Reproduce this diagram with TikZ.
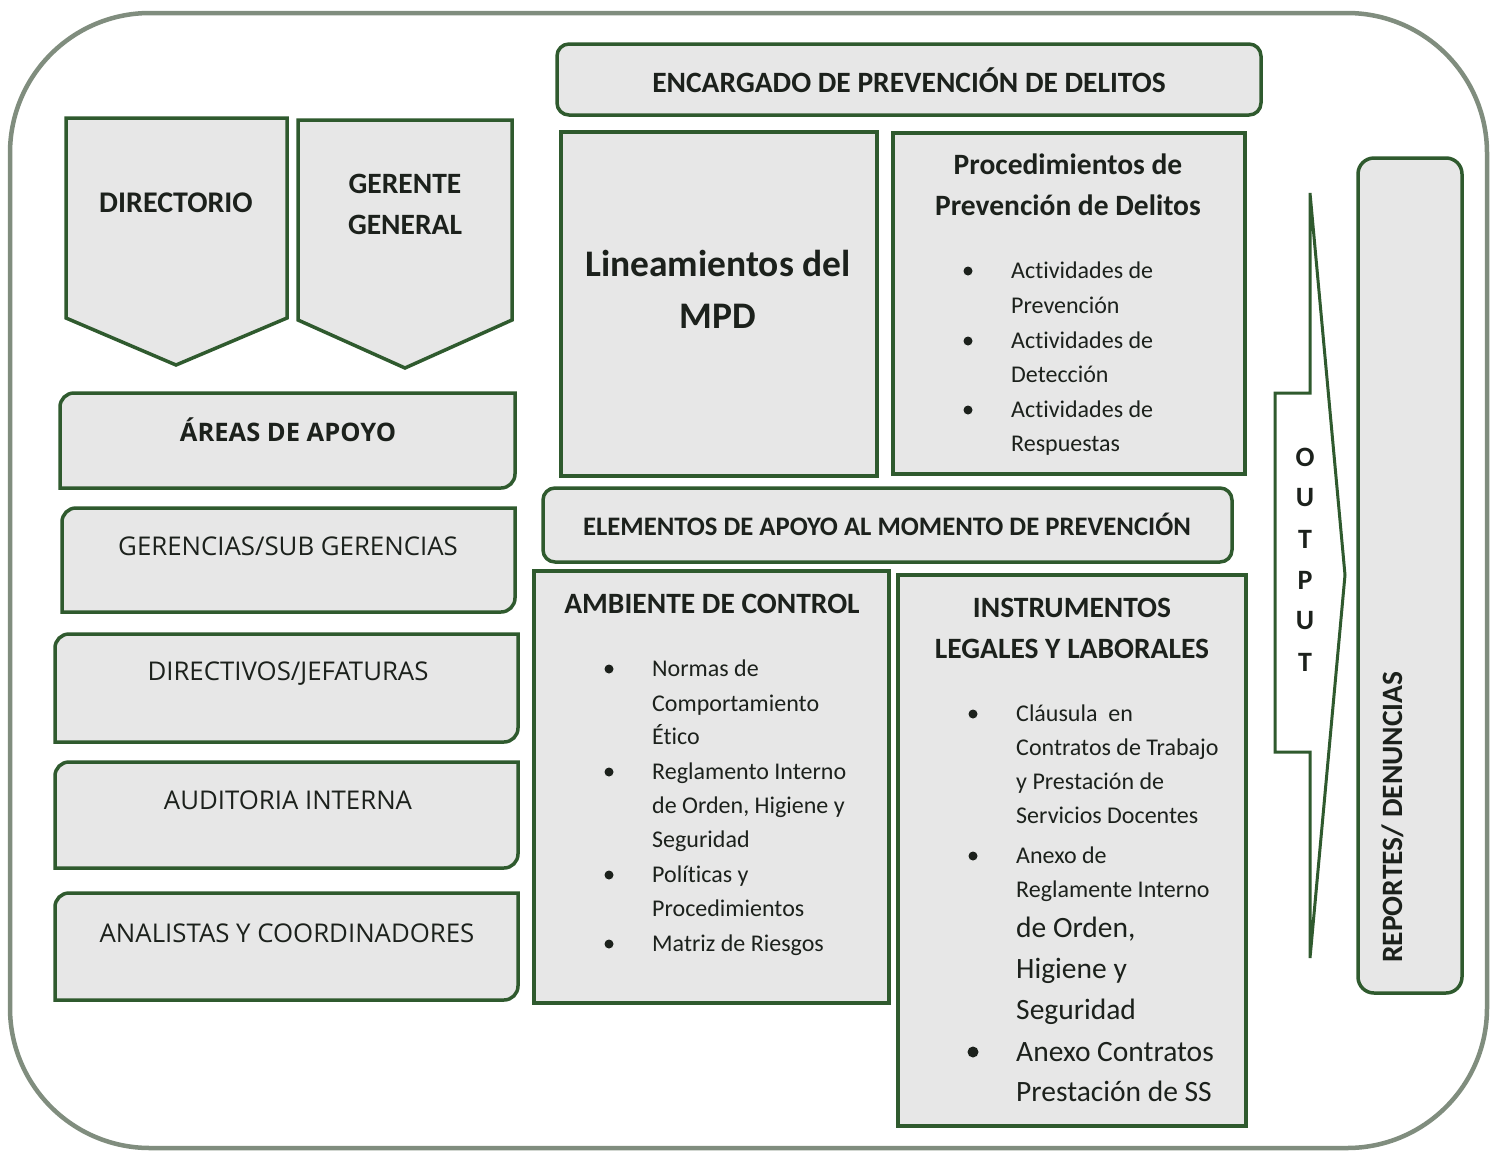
\documentclass[tikz,border=0pt]{standalone}
\usepackage{fontspec}
\setmainfont{Carlito}[Ligatures=NoCommon]
\newfontfamily\opensans{Open Sans}
\definecolor{boxgreen}{HTML}{2F5A2E}
\definecolor{boxfill}{HTML}{E7E7E7}
\definecolor{framegray}{HTML}{808D7E}
\definecolor{ink}{HTML}{1C211C}
\newcommand{\tabbox}[4]{\draw[greenbox] (#1,#2+14) arc[start angle=180, end angle=270, radius=14] -- (#3,#2) -- (#3,#4-14) arc[start angle=0, end angle=90, radius=14] -- (#1,#4) -- cycle;}

\begin{document}
\begin{tikzpicture}[x=1pt, y=-1pt,
    greenbox/.style={draw=boxgreen, fill=boxfill, line width=3.5pt},
    heading/.style={font=\bfseries\fontsize{29.5}{41}\selectfont, text=ink, align=center, inner sep=0pt},
    sidelabel/.style={font=\opensans\fontsize{25.8}{28}\selectfont, text=ink, inner sep=0pt},
    item/.style={font=\fontsize{24}{34}\selectfont, text=ink, anchor=base west, inner sep=0pt},
    bigitem/.style={item, font=\fontsize{29.5}{41}\selectfont},
    outletter/.style={font=\bfseries\fontsize{28}{28}\selectfont, text=ink, inner sep=0pt}]
    \useasboundingbox (0,0) rectangle (1492,1152);

    % Frame
    \draw[framegray, line width=4.5pt, fill=white, rounded corners=140pt] (10,13) rectangle (1487,1148);

    % Top left pentagons
    \draw[greenbox] (66,118) -- (287,118) -- (287,318) -- (176,365) -- (66,318) -- cycle;
    \node[heading, font=\bfseries\fontsize{30}{41}\selectfont] (directorio) at (176,203) {DIRECTORIO};
    \draw[greenbox] (298,120) -- (512,120) -- (512,320) -- (405,368) -- (298,320) -- cycle;
    \node[heading] (gerente) at (405,204) {GERENTE\\GENERAL};

    % Left column
    \tabbox{60}{393}{515}{488}
    \node[sidelabel, font=\opensans\bfseries\fontsize{25.5}{28}\selectfont] (areas) at (288,430) {ÁREAS DE APOYO};
    \tabbox{62}{508}{515}{612}
    \node[sidelabel] (gerencias) at (288,546) {GERENCIAS/SUB GERENCIAS};
    \tabbox{55}{634}{518}{742}
    \node[sidelabel] (directivos) at (288,674) {DIRECTIVOS/JEFATURAS};
    \tabbox{55}{762}{518}{868}
    \node[sidelabel] (auditoria) at (288,800) {AUDITORIA INTERNA};
    \tabbox{55}{893}{518}{1000}
    \node[sidelabel] (analistas) at (287,933) {ANALISTAS Y COORDINADORES};

    % Upper middle
    \draw[greenbox, rounded corners=12pt] (557,44) rectangle (1261,115);
    \node[heading] (encargado) at (909,80) {ENCARGADO DE PREVENCIÓN DE DELITOS};
    \draw[greenbox] (561,132) rectangle (877,476);
    \node[heading, font=\bfseries\fontsize{37.5}{52}\selectfont] (lineamientos) at (718,289) {Lineamientos del\\MPD};
    \draw[greenbox] (893,133) rectangle (1245,474);
    \node[heading] (procedimientos) at (1068,185) {Procedimientos de\\Prevención de Delitos};
    \foreach \y/\t [count=\i] in {271/Actividades de, 306/Prevención, 341/Actividades de, 375/Detección, 410/Actividades de, 444/Respuestas}
        \node[item] (proc\i) at (1011,\y+7) {\t};
    \foreach \y in {271, 341, 410}
        \fill[ink] (968,\y) circle (4.5);

    % Lower middle
    \draw[greenbox, rounded corners=12pt] (543,488) rectangle (1232,562);
    \node[heading, font=\bfseries\fontsize{26.7}{41}\selectfont] (elementos) at (887,524) {ELEMENTOS DE APOYO AL MOMENTO DE PREVENCIÓN};
    \draw[greenbox] (534,571) rectangle (889,1003);
    \node[heading] (ambiente) at (712,604) {AMBIENTE DE CONTROL};
    \foreach \y/\t [count=\i] in {669/Normas de, 704/Comportamiento, 737/Ético, 772/Reglamento Interno, 806/{de Orden, Higiene y}, 840/Seguridad, 875/Políticas y, 909/Procedimientos, 944/Matriz de Riesgos}
        \node[item] (amb\i) at (652,\y+7) {\t};
    \foreach \y in {669, 772, 875, 944}
        \fill[ink] (609,\y) circle (4.5);
    \draw[greenbox] (898,575) rectangle (1246,1126);
    \node[heading] (instrumentos) at (1072,628) {INSTRUMENTOS\\LEGALES Y LABORALES};
    \foreach \y/\t [count=\i] in {714/Cláusula\ \ en, 748/Contratos de Trabajo, 782/y Prestación de, 816/Servicios Docentes, 856/Anexo de, 890/Reglamente Interno}
        \node[item] (inst\i) at (1016,\y+7) {\t};
    \foreach \y/\t [count=\i] in {928/{de Orden,}, 969/Higiene y, 1010/Seguridad, 1052/Anexo Contratos, 1092/Prestación de SS}
        \node[bigitem] (instb\i) at (1016,\y+9) {\t};
    \foreach \y in {714, 856}
        \fill[ink] (973,\y) circle (4.5);
    \fill[ink] (973,1052) circle (5.5);

    % Output arrow
    \draw[boxgreen, line width=3pt, fill=white] (1310,193) -- (1345,575) -- (1310,958) -- (1310,752) -- (1275,752) -- (1275,393) -- (1310,393) -- cycle;
    \foreach \l [count=\i] in {O,U,T,P,U,T}
        \node[outletter] (out\i) at (1305,{457+41*(\i-1)}) {\l};

    % Reports
    \draw[greenbox, rounded corners=16pt] (1358,158) rectangle (1462,993);
    \node[heading, rotate=90, anchor=west] (reportes) at (1393,963) {REPORTES/ DENUNCIAS};
\end{tikzpicture}
\end{document}
